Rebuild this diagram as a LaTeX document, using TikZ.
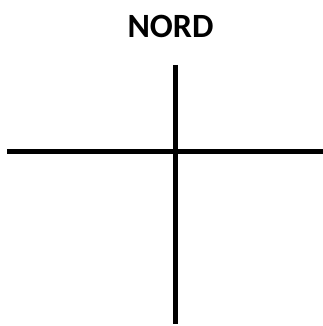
\documentclass[tikz,border=0pt]{standalone}
\usepackage{fontspec}
\setsansfont{Carlito}
\begin{document}
\begin{tikzpicture}[x=1pt,y=-1pt]
  \useasboundingbox (0,0) rectangle (323,326);
  \tikzset{axis/.style={line width=5pt}}
  \node[font=\sffamily\bfseries\fontsize{34}{38}\selectfont] (nord) at (170.5,26) {NORD};
  \coordinate (west) at (7,151.5);
  \coordinate (east) at (323,151.5);
  \coordinate (top) at (175,65);
  \coordinate (bottom) at (175,324);
  \draw[axis] (west) -- (east);
  \draw[axis] (top) -- (bottom);
\end{tikzpicture}
\end{document}
